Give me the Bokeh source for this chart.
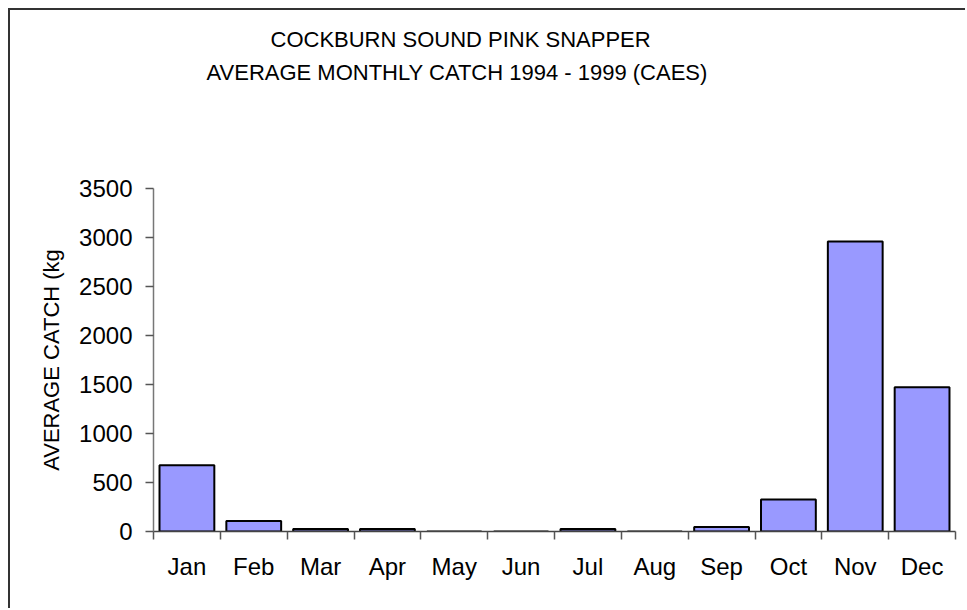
from bokeh.plotting import figure
from bokeh.models import Range1d, FixedTicker, Title
from bokeh.embed import file_html
from bokeh.resources import INLINE

# ---- data ----
months = ["Jan", "Feb", "Mar", "Apr", "May", "Jun",
          "Jul", "Aug", "Sep", "Oct", "Nov", "Dec"]
catch_kg = [677, 106, 25, 25, 0, 0, 25, 0, 45, 327, 2960, 1473]
y_ticks = [0, 500, 1000, 1500, 2000, 2500, 3000, 3500]
title_lines = ["COCKBURN SOUND PINK SNAPPER",
               "AVERAGE MONTHLY CATCH 1994 - 1999 (CAES)"]
y_label = "AVERAGE CATCH (kg"

FONT = "Liberation Sans"

p = figure(width=957, height=600, output_backend="svg", toolbar_location=None,
           x_range=Range1d(0, len(months)), y_range=Range1d(0, 3500),
           min_border_left=143, min_border_right=12, min_border_top=178,
           min_border_bottom=79)
p.outline_line_color = None
p.background_fill_color = "white"
p.border_fill_color = "white"
p.xgrid.visible = False
p.ygrid.visible = False
p.styles = {"margin-left": "8px", "margin-top": "8px",
            "border-left": "2px solid #333333", "border-top": "2px solid #333333"}

xs = [i + 0.5 for i in range(len(months))]
p.vbar(x=xs, top=catch_kg, width=0.82, bottom=0,
       fill_color="#9999FF", line_color="black", line_width=2)

# x axis: labels at centers, ticks at category boundaries
p.xaxis.ticker = FixedTicker(ticks=xs, minor_ticks=list(range(len(months) + 1)))
p.xaxis.major_label_overrides = {x: m for x, m in zip(xs, months)}
p.xaxis.major_tick_out = 0
p.xaxis.major_tick_in = 0
p.xaxis.minor_tick_out = 8
p.xaxis.minor_tick_in = 0
p.xaxis.minor_tick_line_color = "#555555"
p.xaxis.minor_tick_line_width = 1.5
p.xaxis.axis_line_color = "#444444"
p.xaxis.axis_line_width = 1.5
p.xaxis.major_label_text_font = FONT
p.xaxis.major_label_text_font_size = "24px"
p.xaxis.major_label_text_color = "black"
p.xaxis.major_label_standoff = 13

# y axis
p.yaxis.ticker = FixedTicker(ticks=y_ticks)
p.yaxis.major_tick_out = 8
p.yaxis.major_tick_in = 0
p.yaxis.minor_tick_line_color = None
p.yaxis.major_tick_line_color = "#555555"
p.yaxis.major_tick_line_width = 1.5
p.yaxis.axis_line_color = "#777777"
p.yaxis.axis_line_width = 1.5
p.yaxis.major_label_text_font = FONT
p.yaxis.major_label_text_font_size = "24px"
p.yaxis.major_label_text_color = "black"
p.yaxis.major_label_standoff = 13
p.yaxis.axis_label = y_label
p.yaxis.axis_label_text_font = FONT
p.yaxis.axis_label_text_font_size = "22px"
p.yaxis.axis_label_text_font_style = "normal"
p.yaxis.axis_label_text_color = "black"
p.yaxis.axis_label_standoff = 12

# spacer between frame and title block
p.add_layout(Title(text=" ", text_font_size="1px", standoff=98), "above")
# title: two lines, the second added first so it sits nearest the frame
offsets = [117, 53]
for line, off in reversed(list(zip(title_lines, offsets))):
    p.add_layout(Title(text=line, align="left", offset=off, text_font=FONT,
                       text_font_size="22px", text_font_style="normal",
                       text_color="black", standoff=6), "above")

open("out.html", "w").write(file_html(p, INLINE))
